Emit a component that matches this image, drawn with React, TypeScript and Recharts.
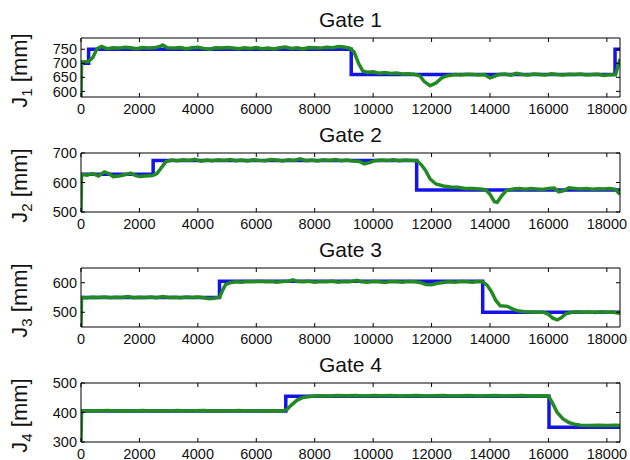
import { Label, Line, LineChart, XAxis, YAxis } from "recharts";

type Pt = [number, number];

// time axis (samples)
const timeDomain: [number, number] = [0, 18450];
const timeTicks = [0, 2000, 4000, 6000, 8000, 10000, 12000, 14000, 16000, 18000];

const gateTitles = ["Gate 1", "Gate 2", "Gate 3", "Gate 4"];
const gateDomains: [number, number][] = [
  [580, 790],
  [500, 700],
  [450, 650],
  [300, 500],
];
const gateTicks = [
  [600, 650, 700, 750],
  [500, 600, 700],
  [500, 600],
  [300, 400, 500],
];

// setpoints (blue), drawn as steps
const gate1Ref: Pt[] = [[0, 700], [260, 750], [9250, 660], [18280, 750], [18450, 750]];
const gate2Ref: Pt[] = [[0, 628], [2470, 675], [11490, 575], [18450, 575]];
const gate3Ref: Pt[] = [[0, 550], [4740, 605], [13750, 500], [18450, 500]];
const gate4Ref: Pt[] = [[0, 405], [7010, 455], [16020, 350], [18450, 350]];

// measured levels (green)
const gate1Meas: Pt[] = [
  [0, 580], [20, 705], [250, 706], [400, 720], [550, 752], [700, 760], [900, 752],
  [1100, 755], [1300, 754], [1500, 757], [1700, 755], [1900, 752], [2100, 756],
  [2300, 754], [2500, 755], [2700, 760], [2800, 765], [2950, 755], [3200, 754],
  [3400, 756], [3600, 752], [3800, 755], [4000, 757], [4200, 753], [4400, 750],
  [4600, 755], [4800, 754], [5000, 756], [5200, 754], [5400, 752], [5600, 755],
  [5800, 753], [6000, 756], [6200, 752], [6400, 754], [6600, 751], [6800, 755],
  [7000, 758], [7200, 753], [7400, 755], [7600, 751], [7800, 756], [8000, 755],
  [8200, 754], [8400, 757], [8600, 755], [8800, 760], [9000, 758], [9200, 754],
  [9350, 740], [9500, 700], [9650, 672], [9800, 668], [10000, 670], [10200, 665],
  [10400, 667], [10600, 664], [10800, 665], [11000, 662], [11200, 663], [11400, 661],
  [11600, 655], [11750, 635], [11950, 620], [12150, 630], [12350, 648], [12550, 656],
  [12800, 660], [13000, 658], [13200, 661], [13400, 660], [13600, 658], [13800, 660],
  [14000, 648], [14100, 652], [14300, 660], [14500, 662], [14700, 658], [14900, 664],
  [15100, 660], [15300, 658], [15500, 662], [15700, 660], [15900, 658], [16100, 663],
  [16300, 660], [16500, 658], [16700, 661], [16900, 660], [17100, 662], [17300, 658],
  [17500, 660], [17700, 661], [17900, 657], [18100, 659], [18300, 660], [18450, 715],
];
const gate2Meas: Pt[] = [
  [0, 500], [20, 628], [200, 625], [400, 630], [600, 622], [800, 636], [950, 630],
  [1100, 620], [1300, 622], [1500, 626], [1700, 632], [1850, 624], [2000, 620],
  [2200, 622], [2450, 624], [2600, 630], [2750, 650], [2900, 670], [3100, 676],
  [3300, 674], [3500, 677], [3700, 675], [3900, 679], [4100, 672], [4300, 676],
  [4500, 674], [4700, 677], [4900, 675], [5100, 678], [5300, 674], [5500, 676],
  [5700, 673], [5900, 677], [6100, 675], [6300, 674], [6500, 678], [6700, 676],
  [6900, 673], [7100, 677], [7300, 675], [7500, 680], [7700, 674], [7900, 676],
  [8100, 673], [8300, 677], [8500, 675], [8700, 678], [8900, 674], [9100, 676],
  [9300, 673], [9500, 672], [9700, 663], [9900, 668], [10050, 674], [10300, 676],
  [10500, 675], [10700, 677], [10900, 674], [11100, 676], [11300, 675], [11500, 674],
  [11650, 660], [11800, 640], [11950, 612], [12150, 595], [12400, 588], [12650, 585],
  [12900, 584], [13150, 580], [13400, 580], [13650, 578], [13850, 576], [14000, 560],
  [14150, 535], [14250, 533], [14400, 555], [14550, 572], [14800, 578], [15000, 580],
  [15200, 577], [15400, 580], [15600, 578], [15800, 576], [16000, 580], [16200, 581],
  [16350, 568], [16500, 572], [16700, 582], [16900, 580], [17100, 578], [17300, 580],
  [17500, 577], [17700, 579], [17900, 578], [18100, 580], [18300, 577], [18400, 565],
  [18450, 560],
];
const gate3Meas: Pt[] = [
  [0, 450], [20, 550], [200, 549], [400, 551], [600, 550], [800, 552], [1000, 549],
  [1200, 551], [1400, 550], [1600, 553], [1800, 549], [2000, 551], [2200, 550],
  [2400, 552], [2600, 549], [2800, 553], [3000, 550], [3200, 551], [3400, 549],
  [3600, 552], [3800, 550], [4000, 552], [4200, 549], [4400, 546], [4600, 548],
  [4750, 552], [4850, 575], [4950, 594], [5100, 600], [5300, 603], [5500, 602],
  [5700, 604], [5900, 603], [6100, 605], [6300, 603], [6500, 604], [6700, 602],
  [6900, 604], [7100, 605], [7250, 610], [7400, 604], [7600, 603], [7800, 605],
  [8000, 602], [8200, 604], [8400, 603], [8600, 605], [8800, 602], [9000, 604],
  [9200, 603], [9450, 608], [9600, 603], [9800, 602], [10000, 604], [10200, 603],
  [10400, 601], [10600, 604], [10800, 603], [11000, 602], [11200, 604], [11400, 603],
  [11600, 601], [11800, 594], [12000, 593], [12200, 598], [12400, 601], [12600, 603],
  [12800, 602], [13000, 604], [13200, 603], [13400, 602], [13600, 604], [13750, 603],
  [13900, 592], [14050, 570], [14200, 540], [14350, 522], [14600, 520], [14800, 510],
  [15000, 504], [15200, 502], [15400, 501], [15600, 500], [15800, 501], [16000, 493],
  [16150, 480], [16300, 474], [16450, 482], [16600, 495], [16800, 500], [17000, 502],
  [17200, 500], [17400, 501], [17600, 499], [17800, 502], [18000, 500], [18200, 501],
  [18450, 496],
];
const gate4Meas: Pt[] = [
  [0, 300], [20, 405], [300, 406], [600, 405], [900, 407], [1200, 405], [1500, 406],
  [1800, 405], [2100, 407], [2400, 405], [2700, 406], [3000, 405], [3300, 407],
  [3600, 405], [3900, 406], [4200, 407], [4500, 405], [4800, 406], [5100, 405],
  [5400, 407], [5700, 405], [6000, 406], [6300, 405], [6600, 406], [6900, 405],
  [7050, 410], [7200, 425], [7400, 442], [7600, 451], [7900, 455], [8200, 457],
  [8500, 456], [8800, 458], [9100, 457], [9400, 458], [9700, 456], [10000, 458],
  [10300, 457], [10600, 458], [10900, 456], [11200, 457], [11500, 458], [11800, 456],
  [12100, 457], [12400, 458], [12700, 456], [13000, 457], [13300, 458], [13600, 456],
  [13900, 457], [14200, 458], [14500, 456], [14800, 457], [15100, 458], [15400, 456],
  [15700, 457], [16000, 456], [16150, 430], [16300, 400], [16500, 378], [16700, 366],
  [16900, 360], [17100, 357], [17400, 356], [17700, 357], [18000, 356], [18300, 357],
  [18450, 356],
];

const refSeries = [gate1Ref, gate2Ref, gate3Ref, gate4Ref];
const measSeries = [gate1Meas, gate2Meas, gate3Meas, gate4Meas];

const ink = "#111";
const tickFont = { fontSize: 14.5, fill: ink };

function GatePanel({ i }: { i: number }) {
  const ref = refSeries[i].map(([t, v]) => ({ t, v }));
  const meas = measSeries[i].map(([t, v]) => ({ t, v }));

  return (
    <div style={{ position: "absolute", left: 0, top: i * 115, width: 630, height: 115 }}>
      <div
        style={{
          position: "absolute",
          left: 81,
          top: 9,
          width: 539,
          textAlign: "center",
          fontSize: 21,
          lineHeight: "21px",
          color: ink,
        }}
      >
        {gateTitles[i]}
      </div>
      <LineChart width={630} height={115} margin={{ top: 37, right: 9, bottom: 0, left: 0 }}>
        <XAxis
          xAxisId="b"
          type="number"
          dataKey="t"
          domain={timeDomain}
          ticks={timeTicks}
          interval={0}
          allowDataOverflow
          height={18}
          tickSize={-4}
          tickMargin={11}
          stroke="#000"
          tick={tickFont}
        />
        <XAxis
          xAxisId="t"
          orientation="top"
          type="number"
          dataKey="t"
          domain={timeDomain}
          ticks={timeTicks}
          interval={0}
          allowDataOverflow
          height={1}
          tickSize={-4}
          stroke="#000"
          tickFormatter={() => ""}
        />
        <YAxis
          yAxisId="l"
          type="number"
          domain={gateDomains[i]}
          ticks={gateTicks[i]}
          interval={0}
          allowDataOverflow
          width={81}
          tickSize={-4}
          tickMargin={8}
          stroke="#000"
          tick={tickFont}
        >
          <Label
            content={(p: any) => {
              const vb = p.viewBox || {};
              const cx = vb.x + 27;
              const cy = vb.y + vb.height / 2 + 3;
              return (
                <text
                  x={cx}
                  y={cy}
                  transform={`rotate(-90, ${cx}, ${cy})`}
                  textAnchor="middle"
                  fontSize={22}
                  fill={ink}
                >
                  J
                  <tspan dy={5} fontSize={15}>
                    {i + 1}
                  </tspan>
                  <tspan dy={-5}> [mm]</tspan>
                </text>
              );
            }}
          />
        </YAxis>
        <YAxis
          yAxisId="r"
          orientation="right"
          type="number"
          domain={gateDomains[i]}
          ticks={gateTicks[i]}
          interval={0}
          allowDataOverflow
          width={1}
          tickSize={-4}
          stroke="#000"
          tickFormatter={() => ""}
        />
        {/* invisible copy so the top/right frame axes get a domain */}
        <Line
          xAxisId="t"
          yAxisId="r"
          data={ref}
          dataKey="v"
          stroke="none"
          strokeOpacity={0}
          dot={false}
          activeDot={false}
          isAnimationActive={false}
        />
        <Line
          xAxisId="b"
          yAxisId="l"
          data={ref}
          dataKey="v"
          type="stepAfter"
          stroke="#1414e6"
          strokeWidth={3.5}
          dot={false}
          isAnimationActive={false}
        />
        <Line
          xAxisId="b"
          yAxisId="l"
          data={meas}
          dataKey="v"
          type="linear"
          stroke="#238a23"
          strokeWidth={3.5}
          dot={false}
          isAnimationActive={false}
        />
      </LineChart>
    </div>
  );
}

export default function App() {
  return (
    <div
      style={{
        position: "absolute",
        left: 0,
        top: 0,
        width: 630,
        height: 460,
        background: "#fff",
        fontFamily: "'Liberation Sans', Arial, sans-serif",
      }}
    >
      <style>{".recharts-surface{overflow:visible}"}</style>
      {gateTitles.map((_, i) => (
        <GatePanel key={i} i={i} />
      ))}
    </div>
  );
}
